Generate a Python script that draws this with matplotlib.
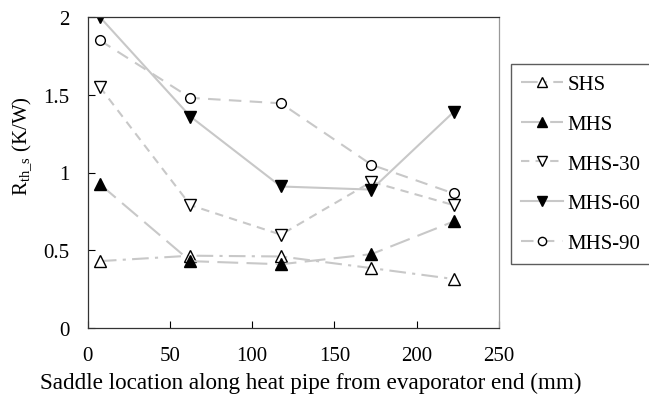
import matplotlib
matplotlib.use("Agg")
from matplotlib import pyplot as plt

# saddle positions along the heat pipe (mm)
location = [7.5, 62.5, 117.5, 172.5, 222.5]

# thermal resistance of the saddle for each heat sink (K/W)
shs = [0.43, 0.465, 0.46, 0.385, 0.315]
mhs = [0.925, 0.43, 0.41, 0.475, 0.685]
mhs_30 = [1.55, 0.79, 0.60, 0.94, 0.79]
mhs_60 = [2.0, 1.36, 0.91, 0.89, 1.39]
mhs_90 = [1.85, 1.48, 1.445, 1.05, 0.865]

plt.rcParams['font.family'] = ['Liberation Serif', 'DejaVu Serif']
plt.rcParams['mathtext.fontset'] = 'custom'
plt.rcParams['mathtext.rm'] = 'Liberation Serif'

fig = plt.figure(figsize=(6.49, 4.02), dpi=100)
ax = fig.add_axes([87.5/649, 1-329/402, (499-87.5)/649, (329-18)/402])

grey = '#c8c8c8'
ms = 8
ax.plot(location, shs, color=grey, lw=1.5, dashes=(8, 3, 1.5, 3), marker='^',
        mfc='white', mec='black', mew=1.0, ms=ms, label='SHS')
ax.plot(location, mhs, color=grey, lw=1.5, dashes=(10, 4), marker='^',
        mfc='black', mec='black', ms=ms, label='MHS')
ax.plot(location, mhs_30, color=grey, lw=1.5, dashes=(4, 3), marker='v',
        mfc='white', mec='black', mew=1.0, ms=ms, label='MHS-30')
ax.plot(location, mhs_60, color=grey, lw=1.5, ls='-', marker='v',
        mfc='black', mec='black', ms=ms, label='MHS-60')
ax.plot(location, mhs_90, color=grey, lw=1.5, dashes=(6, 4), marker='o',
        mfc='white', mec='black', mew=1.0, ms=7, label='MHS-90')

ax.set_xlim(0, 250)
ax.set_ylim(0, 2)
ax.set_xticks([0, 50, 100, 150, 200, 250])
ax.set_yticks([0, 0.5, 1, 1.5, 2])
ax.set_yticklabels(['0', '0.5', '1', '1.5', '2'])
ax.tick_params(direction='in', labelsize=15, length=5, pad=13)
for s in ax.spines.values():
    s.set_linewidth(0.9)
    s.set_color('#333333')
ax.spines['right'].set_color('#999999')

ax.set_xlabel('Saddle location along heat pipe from evaporator end (mm)', fontsize=16.7)
ax.xaxis.set_label_coords(0.543, -0.14)
ax.set_ylabel(r'R$_{\mathregular{th\_s}}$ (K/W)', fontsize=15)
ax.yaxis.set_label_coords(-0.128, 0.588)

leg = ax.legend(loc='upper left', bbox_to_anchor=(511/649, 1-65/402), bbox_transform=fig.transFigure,
                borderaxespad=0, fontsize=15, frameon=True, fancybox=False, handlelength=2.0,
                handletextpad=0.2, labelspacing=0.97, borderpad=0.5, markerscale=0.85)
leg.get_frame().set_edgecolor('#333333')
leg.get_frame().set_linewidth(1.0)

fig.savefig('out.png', dpi=100)
